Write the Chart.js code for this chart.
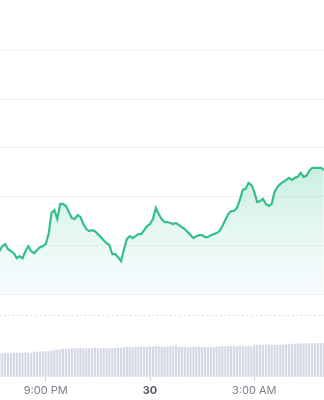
<!DOCTYPE html>
<html>
<head>
<meta charset="utf-8">
<script src="https://cdn.jsdelivr.net/npm/chart.js@4"></script>
<style>
  html, body { margin: 0; padding: 0; background: #ffffff; }
  #wrap { width: 324px; height: 400px; }
</style>
</head>
<body>
<div id="wrap"><canvas id="c" width="324" height="400"></canvas></div>
<script>
// minutes relative to 9:00 PM, 5-minute steps
const times = [];
for (let t = -80; t <= 480; t += 5) times.push(t);

const prices = [
  3021.5, 3024, 3025, 3022.5, 3021.5, 3020.5, 3018, 3019, 3018, 3021.5,
  3024, 3021.5, 3020.5, 3022, 3023.5, 3024, 3025, 3030, 3040.5, 3042,
  3037.5, 3045, 3045, 3044, 3041, 3038, 3037.5, 3039.5, 3038.5, 3035,
  3032.5, 3031.5, 3032, 3031.5, 3030, 3028.5, 3027, 3025.5, 3024.5, 3020,
  3020, 3018.5, 3016.5, 3022.5, 3027.5, 3029, 3028, 3029, 3030, 3030,
  3032, 3034, 3035, 3037.5, 3043, 3040, 3037.5, 3036, 3036, 3035.5,
  3035, 3035.5, 3034.5, 3033.5, 3032.5, 3031, 3029.5, 3028, 3029, 3029.5,
  3029.5, 3028.5, 3028.5, 3029.5, 3030, 3030.5, 3031.5, 3034, 3037, 3040,
  3041.5, 3041.5, 3043, 3047, 3052, 3052.5, 3055.5, 3054.5, 3051, 3046,
  3046.5, 3047.5, 3045, 3044, 3045, 3051, 3053.5, 3055, 3056, 3057,
  3058, 3057, 3058, 3058.5, 3060.5, 3058.5, 3059, 3061.5, 3063, 3063,
  3063, 3063, 3062
];

const volumes = [
  23, 23, 23.5, 23, 23, 23.5, 23.5, 23.5, 23.5, 24,
  23.5, 23.5, 24.5, 24.5, 24.5, 25, 25, 25, 25.5, 26.5,
  26.5, 26.5, 27.5, 27.5, 27.5, 28, 28, 28, 28, 28,
  28, 28, 28, 28.5, 28, 28, 28, 28, 28, 28,
  28.5, 28.5, 28.5, 29, 29.5, 29.5, 29.5, 29.5, 30, 29.5,
  29.5, 29.5, 30, 29.5, 30, 30, 29.5, 29.5, 29.5, 30,
  30.5, 31, 29.5, 29.5, 29.5, 29, 29.5, 29.5, 29.5, 29.5,
  29, 29, 29, 29, 29, 29.5, 30, 30, 30, 30,
  30, 30, 30, 30.5, 30, 30, 30.5, 30, 31.5, 31.5,
  31.5, 31.5, 31.5, 32, 31.5, 31.5, 31.5, 31.5, 32, 32,
  32, 32.5, 32.5, 33, 33, 32.5, 33, 33, 33, 33,
  33, 33.5, 33
];

const tickValues = [0, 180, 360];
const tickLabels = ['9:00 PM', '30', '3:00 AM'];
const gridValues = [3000, 3024.3, 3048.6, 3072.9, 3097.2, 3121.5];
const refLine = 2989.5;

const priceData = times.map((t, i) => ({ x: t, y: prices[i] }));
const volumeData = times.map((t, i) => ({ x: t, y: volumes[i] }));
const refData = [{ x: times[0], y: refLine }, { x: times[times.length - 1], y: refLine }];

function fillGradient(context) {
  const chart = context.chart;
  const area = chart.chartArea;
  if (!area) return 'rgba(52,190,135,0.15)';
  const ys = chart.scales.y;
  const top = ys.getPixelForValue(Math.max(...prices));
  const bottom = ys.getPixelForValue(gridValues[0]);
  const g = chart.ctx.createLinearGradient(0, top, 0, bottom);
  g.addColorStop(0, 'rgba(52,192,135,0.26)');
  g.addColorStop(0.6, 'rgba(70,200,160,0.11)');
  g.addColorStop(1, 'rgba(110,200,230,0.06)');
  return g;
}

new Chart(document.getElementById('c'), {
  data: {
    datasets: [
      {
        type: 'line',
        data: priceData,
        yAxisID: 'y',
        borderColor: '#35c08a',
        borderWidth: 2.2,
        pointRadius: 0,
        tension: 0,
        fill: { value: gridValues[0] },
        backgroundColor: fillGradient,
        order: 1
      },
      {
        type: 'line',
        data: refData,
        yAxisID: 'y',
        borderColor: '#d6d6d6',
        borderWidth: 1,
        borderDash: [1.5, 3],
        pointRadius: 0,
        fill: false,
        order: 2
      },
      {
        type: 'bar',
        data: volumeData,
        yAxisID: 'v',
        backgroundColor: '#d4d8e2',
        barThickness: 1.5,
        order: 3
      }
    ]
  },
  options: {
    responsive: false,
    animation: false,
    layout: { padding: { left: 0, right: 0, top: 0, bottom: 0 } },
    plugins: { legend: { display: false }, tooltip: { enabled: false } },
    scales: {
      x: {
        type: 'linear',
        min: -78.9,
        max: 480.3,
        offset: false,
        border: { display: false },
        grid: { offset: false, drawOnChartArea: false, drawTicks: true, tickLength: 4, color: '#cccccc' },
        afterBuildTicks: (axis) => { axis.ticks = tickValues.map(v => ({ value: v })); },
        ticks: {
          stepSize: 180,
          includeBounds: false,
          padding: 3,
          maxRotation: 0,
          autoSkip: false,
          font: (ctx) => ({
            family: 'Inter, "Open Sans", sans-serif',
            size: 11,
            weight: (ctx.tick && ctx.tick.value === 180) ? 'bold' : 'normal'
          }),
          color: (ctx) => (ctx.tick && ctx.tick.value === 180) ? '#555b66' : '#7a7f88',
          callback: (value) => {
            const i = tickValues.indexOf(value);
            return i >= 0 ? tickLabels[i] : '';
          }
        }
      },
      y: {
        type: 'linear',
        min: 2959,
        max: 3146.5,
        border: { display: false },
        grid: { drawTicks: false, color: '#f1f2f3', lineWidth: 1 },
        afterBuildTicks: (axis) => { axis.ticks = gridValues.map(v => ({ value: v })); },
        ticks: { display: false }
      },
      v: {
        type: 'linear',
        display: false,
        min: 0,
        max: 375
      }
    }
  }
});
</script>
</body>
</html>
